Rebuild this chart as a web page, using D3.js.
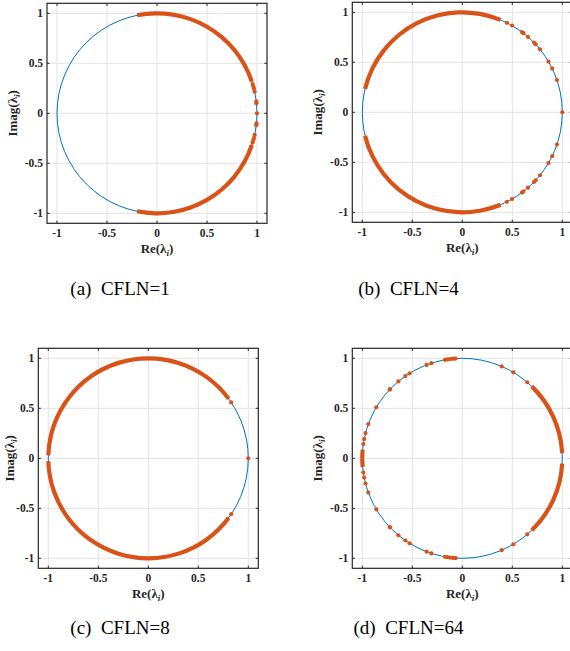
<!DOCTYPE html>
<html>
<head>
<meta charset="utf-8">
<script src="https://cdn.jsdelivr.net/npm/d3@7"></script>
<style>
  html, body { margin: 0; padding: 0; background: #fff; }
  svg { display: block; }
  .tick-label { font-family: "Liberation Serif", "Times New Roman", serif; font-weight: bold; font-size: 11.5px; fill: #262626; }
  .axis-title { font-family: "Liberation Serif", "Times New Roman", serif; font-weight: bold; font-size: 13px; fill: #262626; }
  .caption { font-family: "Liberation Serif", "Times New Roman", serif; font-size: 19px; fill: #000; }
</style>
</head>
<body>
<script>
// Eigenvalues lie on the unit circle; angles in degrees (upper half-plane),
// each one also has its complex conjugate at the negative angle.
const captions = ["(a)  CFLN=1", "(b)  CFLN=4", "(c)  CFLN=8", "(d)  CFLN=64"];
const tickValues = [-1, -0.5, 0, 0.5, 1];
const tickLabels = ["-1", "-0.5", "0", "0.5", "1"];

// dense clusters of eigenvalues, as [from, to] angle ranges
const bandsA = [[18.5, 101.5]];
const bandsB = [[67.5, 166.5]];
const bandsC = [[36.5, 178.3]];
const bandsD = [[3, 46], [175, 180]];

// isolated eigenvalues
const pointsA = [17, 15.5, 14.3, 12.5, 6.8, 5.8, 0];
const pointsB = [63.5, 60.2, 53.4, 52.3, 48.9, 44.2, 42.8, 39, 30.5, 26, 18.8, 0];
const pointsC = [34, 0];
const pointsD = [110.9, 108, 100, 98.5, 97, 95.5, 94.5, 93.8, 66.8, 59.3, 49.5,
                 121.8, 124.7, 129.7, 136.2, 136.6, 149.3, 160, 165.4, 168.9, 171.8];

const panels = [
  { left: 47,    top: 3.3,   bands: bandsA, points: pointsA, capX: 120,   capY: 295, ylab: -30 },
  { left: 352.3, top: 2.3,   bands: bandsB, points: pointsB, capX: 408.5, capY: 295, ylab: -30 },
  { left: 38.3,  top: 348.3, bands: bandsC, points: pointsC, capX: 120,   capY: 634, ylab: -24 },
  { left: 352.3, top: 348.3, bands: bandsD, points: pointsD, capX: 408.5, capY: 634, ylab: -30 }
];

const W = 570, H = 651, size = 220;
const blue = "#0072BD", orange = "#D95319", ink = "#262626";

const svg = d3.select("body").append("svg").attr("width", W).attr("height", H);

const x = d3.scaleLinear().domain([-1.1, 1.1]).range([0, size]);
const y = d3.scaleLinear().domain([-1.1, 1.1]).range([size, 0]);
const rad = d => d * Math.PI / 180;

panels.forEach((p, i) => {
  const g = svg.append("g").attr("transform", `translate(${p.left},${p.top})`);

  // grid
  g.selectAll(".gx").data(tickValues).join("line")
    .attr("x1", d => x(d)).attr("x2", d => x(d)).attr("y1", 0).attr("y2", size)
    .attr("stroke", "#e3e3e3").attr("stroke-width", 1);
  g.selectAll(".gy").data(tickValues).join("line")
    .attr("y1", d => y(d)).attr("y2", d => y(d)).attr("x1", 0).attr("x2", size)
    .attr("stroke", "#e3e3e3").attr("stroke-width", 1);

  const cx = x(0), cy = y(0), r = x(1) - x(0);

  // unit circle
  g.append("circle").attr("cx", cx).attr("cy", cy).attr("r", r)
    .attr("fill", "none").attr("stroke", blue).attr("stroke-width", 1);

  // clusters as thick arcs (with conjugates)
  const allBands = p.bands.flatMap(([a, b]) => [[a, b], [-b, -a]]);
  const arc = d3.arc().innerRadius(r - 2.1).outerRadius(r + 2.1);
  g.selectAll(".band").data(allBands).join("path")
    .attr("transform", `translate(${cx},${cy})`)
    .attr("d", ([a, b]) => arc({ startAngle: Math.PI / 2 - rad(b), endAngle: Math.PI / 2 - rad(a) }))
    .attr("fill", orange);

  // isolated eigenvalues (with conjugates)
  const allPts = Array.from(new Set(p.points.flatMap(a => [a, -a])));
  g.selectAll(".pt").data(allPts).join("circle")
    .attr("cx", a => x(Math.cos(rad(a))))
    .attr("cy", a => y(Math.sin(rad(a))))
    .attr("r", 2.1).attr("fill", orange);

  // box
  g.append("rect").attr("width", size).attr("height", size)
    .attr("fill", "none").attr("stroke", ink).attr("stroke-width", 1.2);

  // inward ticks on all four sides
  const tl = 2.6;
  tickValues.forEach(t => {
    [[x(t), size, x(t), size - tl], [x(t), 0, x(t), tl],
     [0, y(t), tl, y(t)], [size, y(t), size - tl, y(t)]].forEach(([x1, y1, x2, y2]) =>
      g.append("line").attr("x1", x1).attr("y1", y1).attr("x2", x2).attr("y2", y2)
        .attr("stroke", ink).attr("stroke-width", 1));
  });

  // tick labels
  g.selectAll(".xt").data(tickValues).join("text").attr("class", "tick-label")
    .attr("x", d => x(d)).attr("y", size + 14).attr("text-anchor", "middle")
    .text((d, k) => tickLabels[k]);
  g.selectAll(".yt").data(tickValues).join("text").attr("class", "tick-label")
    .attr("x", -4).attr("y", d => y(d) + 4).attr("text-anchor", "end")
    .text((d, k) => tickLabels[k]);

  // axis titles
  const xl = g.append("text").attr("class", "axis-title")
    .attr("x", size / 2).attr("y", size + 30).attr("text-anchor", "middle");
  xl.append("tspan").text("Re(λ");
  xl.append("tspan").attr("font-size", "9px").attr("font-style", "italic").attr("dy", 3).text("i");
  xl.append("tspan").attr("dy", -3).text(")");

  const yl = g.append("text").attr("class", "axis-title")
    .attr("transform", `translate(${p.ylab},${size / 2}) rotate(-90)`).attr("text-anchor", "middle");
  yl.append("tspan").text("Imag(λ");
  yl.append("tspan").attr("font-size", "9px").attr("font-style", "italic").attr("dy", 3).text("i");
  yl.append("tspan").attr("dy", -3).text(")");

  // caption
  svg.append("text").attr("class", "caption")
    .attr("x", p.capX).attr("y", p.capY).attr("text-anchor", "middle")
    .attr("xml:space", "preserve").style("white-space", "pre")
    .text(captions[i]);
});
</script>
</body>
</html>
